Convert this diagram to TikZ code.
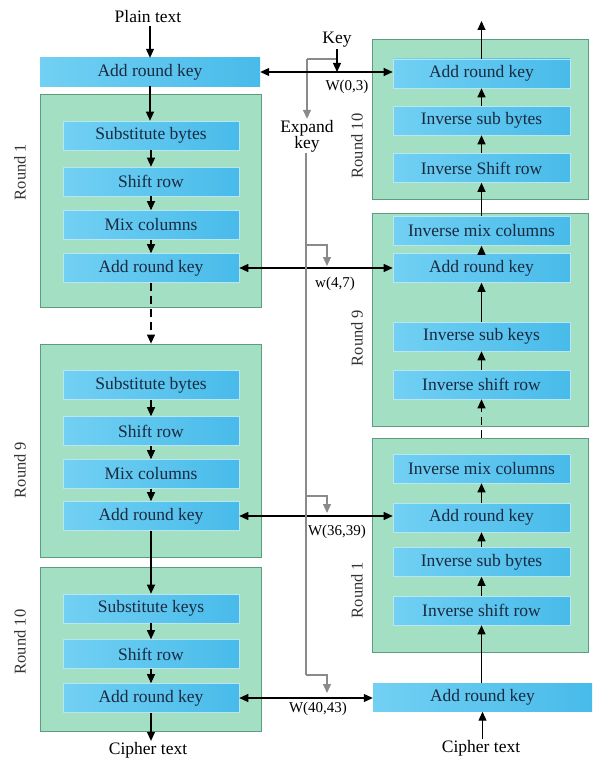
\documentclass[tikz,border=0pt]{standalone}
\usepackage{fontspec}
\setmainfont{Liberation Serif}
\usetikzlibrary{arrows.meta}
\definecolor{gfill}{HTML}{A3E0C3}
\definecolor{gdraw}{HTML}{5E9C80}
\definecolor{bleft}{HTML}{72D0F3}
\definecolor{bright}{HTML}{48BBEA}
\definecolor{bdraw}{HTML}{B8E6F5}
\definecolor{btext}{HTML}{1A2A40}
\definecolor{keygrey}{HTML}{8A8A8A}
\tikzset{
  gbox/.style={draw=gdraw, line width=0.8pt, fill=gfill, minimum width=#1, inner sep=0pt},
  bbox/.style={draw=bdraw, line width=0.6pt, left color=bleft, right color=bright, minimum width=177pt, minimum height=29pt, inner sep=0pt, text=btext, font=\fontsize{17.5}{19}\selectfont},
  topbar/.style={left color=bleft, right color=bright, minimum width=220pt, minimum height=28pt, inner sep=0pt, text=btext, font=\fontsize{17.5}{19}\selectfont},
  lbl/.style={inner sep=1pt, font=\fontsize{17.5}{16}\selectfont},
  rlbl/.style={inner sep=0pt, rotate=90, font=\fontsize{16.5}{18}\selectfont, text=black!80},
  wlbl/.style={inner sep=0pt, font=\fontsize{15}{16}\selectfont},
  arr/.style={-{Triangle[length=9pt,width=8pt]}, line width=1.1pt, black},
  darr/.style={{Triangle[length=9pt,width=8pt]}-{Triangle[length=9pt,width=8pt]}, line width=1.1pt, black},
  dash arr/.style={arr, dash pattern=on 8pt off 5pt},
  garr/.style={-{Triangle[length=9pt,width=8pt]}, line width=1.3pt, keygrey},
  gline/.style={line width=1.3pt, keygrey},
}
\begin{document}
\begin{tikzpicture}[x=1pt,y=-1pt]
\useasboundingbox (0,0) rectangle (592,760);
% ---------- left column ----------
\node[lbl] (plain) at (148,17) {Plain text};
\node[topbar] (lark0) at (150,72) {Add round key};

\node[gbox=221pt, minimum height=213pt] (lr1) at (150.5,200.5) {};
\node[rlbl] (lr1l) at (20,172) {Round 1};
\node[bbox, minimum width=176pt] (lsb1) at (151,135.5) {Substitute bytes};
\node[bbox, minimum width=176pt] (lsr1) at (151,181.5) {Shift row};
\node[bbox, minimum width=176pt] (lmc1) at (151,225) {Mix columns};
\node[bbox, minimum width=176pt] (lark1) at (151,268) {Add round key};

\node[gbox=221pt, minimum height=213pt] (lr9) at (150.5,450.5) {};
\node[rlbl] (lr9l) at (20,470) {Round 9};
\node[bbox, minimum width=176pt] (lsb9) at (151,385) {Substitute bytes};
\node[bbox, minimum width=176pt] (lsr9) at (151,431) {Shift row};
\node[bbox, minimum width=176pt] (lmc9) at (151,474) {Mix columns};
\node[bbox, minimum width=176pt] (lark9) at (151,516) {Add round key};

\node[gbox=221pt, minimum height=164pt] (lr10) at (150.5,649) {};
\node[rlbl] (lr10l) at (20,642) {Round 10};
\node[bbox, minimum width=176pt] (lsk10) at (151,608.5) {Substitute keys};
\node[bbox, minimum width=176pt] (lsr10) at (151,654) {Shift row};
\node[bbox, minimum width=176pt] (lark10) at (151,698) {Add round key};
\node[lbl] (lcipher) at (148,750) {Cipher text};

\draw[arr] (plain.south -| lark0.north) ++(0,2) -- (lark0.north);
\draw[arr] (lark0.south) -- (lark0.south |- lsb1.north);
\draw[arr] (lsb1) -- (lsr1);
\draw[arr] (lsr1) -- (lmc1);
\draw[arr] (lmc1) -- (lark1);
\draw[dash arr] (lark1.south) -- (lark1.south |- lr9.north);
\draw[arr] (lsb9) -- (lsr9);
\draw[arr] (lsr9) -- (lmc9);
\draw[arr] (lmc9) -- (lark9);
\draw[arr] (lark9.south) -- (lsk10.north);
\draw[arr] (lsk10) -- (lsr10);
\draw[arr] (lsr10) -- (lark10);
\draw[arr] (lark10.south) -- (lark10.south |- lcipher.north);

% ---------- right column ----------
\node[gbox=216pt, minimum height=160pt] (rr10) at (480,119) {};
\node[rlbl] (rr10l) at (357,146) {Round 10};
\node[bbox] (rark10) at (481.5,73.5) {Add round key};
\node[bbox] (risb10) at (481.5,120.5) {Inverse sub bytes};
\node[bbox] (risr10) at (481.5,168) {Inverse Shift row};

\node[gbox=216pt, minimum height=213pt] (rr9) at (480,319.5) {};
\node[rlbl] (rr9l) at (357,338) {Round 9};
\node[bbox] (rimc9) at (481.5,231) {Inverse mix columns};
\node[bbox] (rark9) at (481.5,268) {Add round key};
\node[bbox] (risk9) at (481.5,336.5) {Inverse sub keys};
\node[bbox] (risr9) at (481.5,384.5) {Inverse shift row};

\node[gbox=216pt, minimum height=214pt] (rr1) at (480,545) {};
\node[rlbl] (rr1l) at (357,590) {Round 1};
\node[bbox] (rimc1) at (481.5,468.5) {Inverse mix columns};
\node[bbox] (rark1) at (481.5,517.5) {Add round key};
\node[bbox] (risb1) at (481.5,562) {Inverse sub bytes};
\node[bbox] (risr1) at (481.5,610.5) {Inverse shift row};

\node[topbar, minimum width=219pt] (rark0) at (482.5,697.5) {Add round key};
\node[lbl] (rcipher) at (481,748) {Cipher text};

\draw[arr] (rcipher.north -| rark0.south) -- (rark0.south);
\draw[arr] (rark0.north -| risr1.south) -- (risr1.south);
\draw[arr] (risr1) -- (risb1);
\draw[arr] (risb1) -- (rark1);
\draw[arr] (rark1) -- (rimc1);
\draw[dash arr] (rr1.north -| risr9.south) -- (risr9.south);
\draw[arr] (risr9) -- (risk9);
\draw[arr] (risk9) -- (rark9);
\draw[arr] (rark9) -- (rimc9);
\draw[arr] (rimc9.north) -- (risr10.south);
\draw[arr] (risr10) -- (risb10);
\draw[arr] (risb10) -- (rark10);
\coordinate (rend) at (481.5,21);
\draw[arr] (rark10.north) -- (rend);

% ---------- key schedule ----------
\node[lbl] (key) at (337,40) {Key};
\node[lbl, align=center] (expand) at (307,136) {Expand\\key};
\coordinate (k0) at (337,72);
\coordinate (kb) at (337,59);
\draw[gline] (kb) -| (expand.north |- kb) coordinate (kc);
\draw[garr] (kc) -- (expand.north);
\draw[arr] (key.south) -- (k0);

\draw[darr] (lark0.east) -- (lark0.east -| rark10.west);
\draw[darr] (lark1.east) -- (lark1.east -| rark9.west);
\draw[darr] (lark9.east) -- (lark9.east -| rark1.west);
\draw[darr] (lark10.east) -- (lark10.east -| rark0.west);

\coordinate (g1) at (306,245);
\coordinate (g2) at (306,496);
\coordinate (g3) at (306,675);
\draw[gline] (expand.south -| g1) -- (g3);
\draw[garr] (g1) -- (327,245) -- (327,266);
\draw[garr] (g2) -- (327,496) -- (327,513);
\draw[garr] (g3) -- (327,675) -- (327,693);

\node[wlbl] (w0) at (347,87) {W(0,3)};
\node[wlbl] (w1) at (335,284) {w(4,7)};
\node[wlbl] (w2) at (337,532) {W(36,39)};
\node[wlbl] (w3) at (318,709) {W(40,43)};
\end{tikzpicture}
\end{document}
